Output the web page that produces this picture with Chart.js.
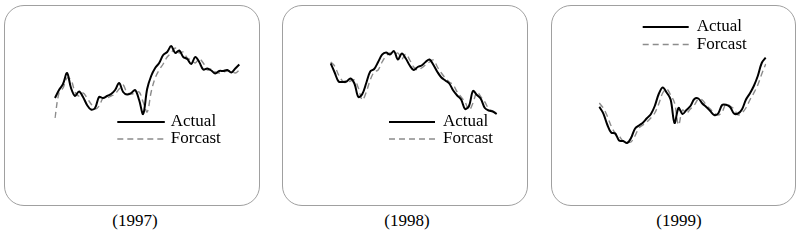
<!DOCTYPE html>
<html>
<head>
<meta charset="utf-8">
<script src="https://cdn.jsdelivr.net/npm/chart.js@4.4.1/dist/chart.umd.min.js"></script>
<style>
  html, body { margin: 0; padding: 0; background: #fff; }
  body { width: 804px; height: 240px; position: relative; overflow: hidden; }
  .panel { position: absolute; top: 5px; height: 201px; }
  .panel .frame {
    position: absolute; left: 0; top: 0; right: 0; bottom: 0;
    border: 1px solid #a0a0a0; border-radius: 20px; box-sizing: border-box;
  }
  .panel canvas { position: absolute; left: 0; top: 0; }
  .caption {
    position: absolute; top: 211px; width: 80px; margin-left: -40px;
    text-align: center; font: 17px/20px "Liberation Serif", "Times New Roman", serif; color: #000;
  }
</style>
</head>
<body>
  <div class="panel" style="left:4px;width:256px"><div class="frame"></div><canvas id="c1997" width="256" height="201"></canvas></div>
  <div class="panel" style="left:282px;width:246px"><div class="frame"></div><canvas id="c1998" width="246" height="201"></canvas></div>
  <div class="panel" style="left:551px;width:245px"><div class="frame"></div><canvas id="c1999" width="245" height="201"></canvas></div>

  <div class="caption" style="left:135px">(1997)</div>
  <div class="caption" style="left:407px">(1998)</div>
  <div class="caption" style="left:679px">(1999)</div>

<script>
// series values (index level)
const actual1997   = [52, 60, 66, 77, 62, 54, 58.5, 53, 45, 40.5, 42, 53, 52, 54, 56, 60, 67, 58, 55.5, 57, 60, 50, 36, 61, 74, 82, 87, 95, 98, 104, 97, 99.5, 93, 91, 86, 93, 88, 80.5, 81.5, 79.5, 76.5, 79, 79, 80, 77.5, 81.5, 85.5];
const forecast1997 = [32, 57, 62, 72, 70, 58, 54, 57, 52, 46, 41, 44, 52, 52, 54, 56, 61, 65, 57, 56, 57, 58, 48, 38, 58, 72, 80, 86, 93, 97, 102, 97, 98, 92, 90, 87, 91, 87, 80, 81, 78, 77, 78, 79, 79, 77, 80];

const actual1998   = [86.7, 77.5, 68.5, 68, 68.5, 71.5, 66.5, 53, 56, 67, 78.5, 81, 88, 95.3, 97.4, 95.5, 99, 90.5, 96.5, 91.5, 84.5, 80, 83, 84.5, 88, 90.5, 85, 78, 72.5, 69.5, 66.5, 59.5, 54.5, 50.5, 41, 44, 59, 55, 51, 42, 39.5, 38.5, 36];
const forecast1998 = [88, 84, 75, 69, 67, 69, 70, 62, 50, 58, 70, 78, 80, 88, 94, 97, 95, 97, 91, 96, 90, 83, 80, 82, 85, 88, 90, 83, 77, 72, 68, 65, 58, 53, 48, 40, 47, 58, 53, 48, 41, 39, 37];

const actual1999   = [43.3, 36.7, 25.5, 17.5, 16.5, 9.5, 9, 7, 12, 21.3, 24.5, 27.3, 31.8, 35.8, 44, 56, 62.5, 57.5, 50.5, 27, 42, 36, 40, 44, 51, 51.5, 46.5, 43, 39, 35, 36.5, 45, 45.2, 43, 36.5, 36.5, 40.5, 50.3, 56.5, 64, 74, 87, 92.3];
const forecast1999 = [47, 42, 34, 24, 17, 14, 9, 8, 8, 14, 22, 25, 28, 32, 37, 46, 57, 61, 55, 47, 25, 40, 37, 41, 45, 51, 50, 45, 41, 37, 35, 38, 46, 44, 41, 35, 37, 42, 50, 57, 65, 76, 86];

const seriesNames = ['Actual', 'Forcast'];

/* legend drawn inside the plot, line sample + serif label */
const insetLegend = {
  id: 'insetLegend',
  afterDraw(chart, args, o) {
    const ctx = chart.ctx;
    ctx.save();
    ctx.font = '17px "Liberation Serif", "Times New Roman", serif';
    ctx.textBaseline = 'middle';
    ctx.fillStyle = '#000';
    chart.data.datasets.forEach(function (ds, i) {
      const y = o.y + i * o.step;
      ctx.beginPath();
      ctx.strokeStyle = ds.borderColor;
      ctx.lineWidth = ds.borderWidth;
      ctx.setLineDash(ds.borderDash || []);
      ctx.moveTo(o.x, y);
      ctx.lineTo(o.x + o.len, y);
      ctx.stroke();
      ctx.setLineDash([]);
      ctx.fillText(ds.label, o.x + o.len + o.gap, y);
    });
    ctx.restore();
  }
};

function buildPanel(id, actual, forecast, pad, legend) {
  new Chart(document.getElementById(id), {
    type: 'line',
    data: {
      labels: actual.map(function (_, i) { return i; }),
      datasets: [
        {
          label: seriesNames[0],
          data: actual,
          borderColor: '#000',
          borderWidth: 2,
          pointRadius: 0,
          tension: 0.35,
          order: 0,
        },
        {
          label: seriesNames[1],
          data: forecast,
          borderColor: '#8c8c8c',
          borderWidth: 1.4,
          borderDash: [6, 4],
          pointRadius: 0,
          tension: 0.35,
          order: 1,
        },
      ],
    },
    options: {
      responsive: false,
      animation: false,
      devicePixelRatio: 1,
      layout: { padding: pad },
      plugins: {
        legend: { display: false },
        tooltip: { enabled: false },
        insetLegend: legend,
      },
      scales: {
        x: { display: false, offset: false },
        y: { display: false, min: 0, max: 120 },
      },
    },
    plugins: [insetLegend],
  });
}

buildPanel('c1997', actual1997, forecast1997,
  { left: 51, right: 20.7, top: 25, bottom: 56 },
  { x: 113.3, y: 117, step: 17, len: 47.5, gap: 6 });

buildPanel('c1998', actual1998, forecast1998,
  { left: 48.7, right: 31.3, top: 25, bottom: 56 },
  { x: 107, y: 117, step: 17, len: 46, gap: 8 });

buildPanel('c1999', actual1999, forecast1999,
  { left: 48.3, right: 30.3, top: 25, bottom: 56 },
  { x: 91.7, y: 22, step: 17.5, len: 46, gap: 8 });
</script>
</body>
</html>
